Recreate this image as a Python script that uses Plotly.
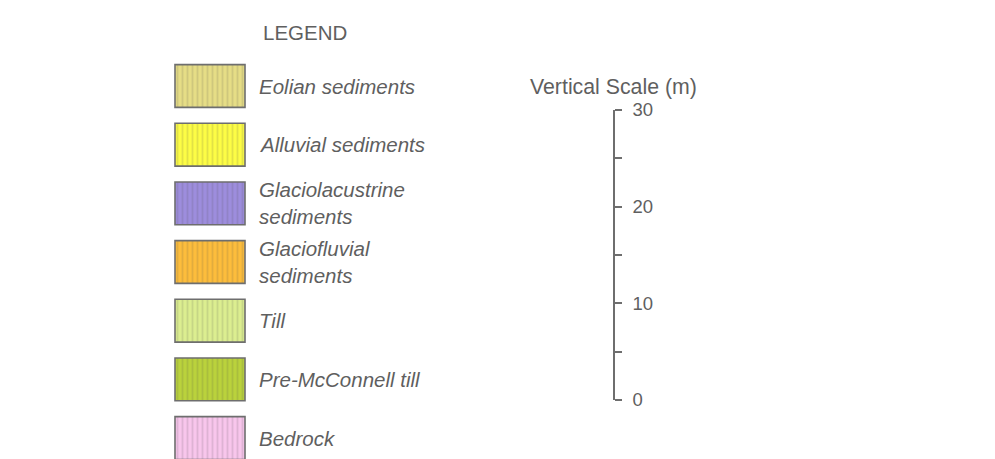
import plotly.graph_objects as go

# ---- data ----
units = ["Eolian sediments", "Alluvial sediments", "Glaciolacustrine sediments",
         "Glaciofluvial sediments", "Till", "Pre-McConnell till", "Bedrock"]
label_texts = ["Eolian sediments", "Alluvial sediments", "Glaciolacustrine<br>sediments",
               "Glaciofluvial<br>sediments", "Till", "Pre-McConnell till", "Bedrock"]
unit_colors = ["#e6dd86", "#fdfd45", "#9d8ddd", "#fdbd3c", "#dcee90", "#bad23c", "#f8c6ec"]
swatch_size = [1, 1, 1, 1, 1, 1, 1]

scale_range = [0, 30]
scale_major = [0, 10, 20, 30]
scale_minor = [5, 15, 25]

W, H = 995, 459
TEXT = "#5f5f5f"
LINE = "#6e6e6e"

fig = go.Figure()

fig.add_trace(go.Bar(
    y=units, x=swatch_size, base=0, orientation="h", width=0.73,
    marker=dict(color=unit_colors, line=dict(color=LINE, width=1.6),
                pattern=dict(shape="|", fgcolor="white", fgopacity=0.15, size=5, solidity=0.35)),
    hoverinfo="skip", showlegend=False,
))

# labels
for u, t in zip(units, label_texts):
    fig.add_annotation(
        x=1.17, y=u, xref="x", yref="y", text=t, showarrow=False,
        xanchor="left", yanchor="middle", align="left",
        font=dict(family="Liberation Sans, Arial, sans-serif", size=20.5, color=TEXT, style="italic"),
    )

# scale trace (invisible) to own the scale axis
fig.add_trace(go.Scatter(x=[0, 0], y=scale_range, xaxis="x2", yaxis="y2", mode="markers",
                         marker=dict(opacity=0), hoverinfo="skip", showlegend=False))

fig.add_annotation(x=304.5 / W, y=1 - 32 / H, xref="paper", yref="paper", text="LEGEND",
                   showarrow=False, xanchor="center", yanchor="middle",
                   font=dict(family="Liberation Sans, Arial, sans-serif", size=20.5, color=TEXT))
fig.add_annotation(x=613.5 / W, y=1 - 87 / H, xref="paper", yref="paper", text="Vertical Scale (m)",
                   showarrow=False, xanchor="center", yanchor="middle",
                   font=dict(family="Liberation Sans, Arial, sans-serif", size=21.3, color=TEXT))

sp = 58.67
c0 = 86
fig.update_layout(
    width=W, height=H, margin=dict(l=0, r=0, t=0, b=0, pad=0, autoexpand=False),
    paper_bgcolor="white", plot_bgcolor="white",
    xaxis=dict(domain=[0, 1], range=[-175 / 70, (W - 175) / 70], visible=False, fixedrange=True),
    yaxis=dict(domain=[0, 1], type="category", categoryarray=units,
               range=[(H - c0) / sp, -c0 / sp], visible=False, fixedrange=True),
    xaxis2=dict(domain=[0.6, 0.61], range=[0, 1], visible=False, anchor="y2"),
    yaxis2=dict(domain=[1 - 400 / H, 1 - 110 / H], range=scale_range, anchor="free",
                position=614 / W, side="right", showline=True, linecolor=LINE, linewidth=1.6,
                showgrid=False, zeroline=False, ticks="outside", ticklen=7, tickwidth=1.6,
                tickcolor=LINE, tickvals=scale_major, ticklabelstandoff=7, automargin=False,
                tickfont=dict(family="Liberation Sans Narrow, Arial Narrow, Liberation Sans, sans-serif",
                              size=18.5, color=TEXT),
                minor=dict(tickvals=scale_minor, ticks="outside", ticklen=7, tickwidth=1.6,
                           tickcolor=LINE, showgrid=False)),
)

fig.write_html("out.html", config={"displayModeBar": False},
               post_script="document.body.style.margin='0';")
